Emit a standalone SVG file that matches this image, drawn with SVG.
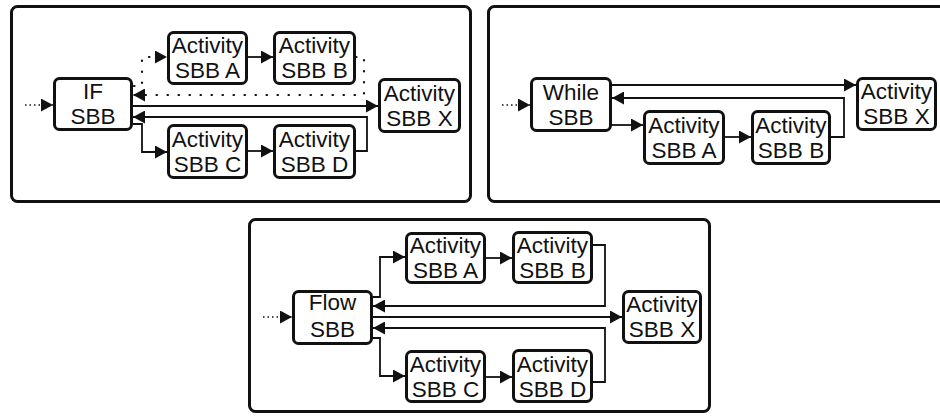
<svg xmlns="http://www.w3.org/2000/svg" width="940" height="416" viewBox="0 0 940 416">
<style>
.panel{fill:#fff;stroke:#111;stroke-width:3}
.box{fill:#fff;stroke:#111;stroke-width:3}
.t{font-family:"Liberation Sans",Arial,sans-serif;font-size:22.5px;fill:#111;text-anchor:middle}
.c{fill:none;stroke:#111;stroke-width:1.8}
.a{marker-end:url(#ah)}
.dot{stroke-dasharray:0.5 10.5;stroke-linecap:round;stroke-width:2.2}
.ell{stroke-dasharray:1.5 3;stroke-width:1.5}
</style>
<defs>
<marker id="ah" markerUnits="userSpaceOnUse" viewBox="0 0 12 13" markerWidth="12" markerHeight="13" refX="12" refY="6.5" orient="auto">
<path d="M0,0 L12,6.5 L0,13 z" fill="#111"/>
</marker>
</defs>
<rect width="940" height="416" fill="#fff"/>
<g id="panels">
<rect class="panel" x="11.5" y="6.5" width="459" height="195" rx="6"/>
<rect class="panel" x="488.5" y="6.5" width="470" height="195" rx="6"/>
<rect class="panel" x="249.5" y="219.5" width="460" height="192" rx="6"/>
</g>
<g id="connectors">
<!-- panel 1 -->
<path class="c ell a" d="M25,105 H53"/>
<path class="c dot a" d="M134,86 H142 V57 H167"/>
<path class="c dot a" d="M356,57 H364 V95 H133"/>
<path class="c a" d="M133,106 H378"/>
<path class="c a" d="M356,151 H367 V117 H133"/>
<path class="c a" d="M133,124 H142 V152 H167"/>
<path class="c a" d="M248,57 H273"/>
<path class="c a" d="M248,151 H273"/>
<!-- panel 2 -->
<path class="c ell a" d="M502,105 H530"/>
<path class="c a" d="M612,85 H856"/>
<path class="c a" d="M831,137 H844 V98 H612"/>
<path class="c a" d="M612,125 H643"/>
<path class="c a" d="M725,137 H751"/>
<!-- panel 3 -->
<path class="c ell a" d="M263,317 H292"/>
<path class="c a" d="M373,297 H380 V257 H405"/>
<path class="c a" d="M373,338 H380 V376 H405"/>
<path class="c a" d="M486,258 H512"/>
<path class="c a" d="M486,377 H512"/>
<path class="c a" d="M593,245 H605 V306 H373"/>
<path class="c a" d="M593,382 H605 V328 H373"/>
<path class="c a" d="M373,317 H622"/>
</g>
<g id="p1_if"><rect class="box" x="54.5" y="78.5" width="77" height="51" rx="5"/><text class="t" x="93" y="99">IF</text><text class="t" x="93" y="124">SBB</text></g>
<g id="p1_a"><rect class="box" x="168.5" y="32.5" width="78" height="51" rx="5"/><text class="t" x="207.5" y="53">Activity</text><text class="t" x="207.5" y="78">SBB A</text></g>
<g id="p1_b"><rect class="box" x="274.5" y="32.5" width="80" height="51" rx="5"/><text class="t" x="314.5" y="53">Activity</text><text class="t" x="314.5" y="78">SBB B</text></g>
<g id="p1_c"><rect class="box" x="168.5" y="125.5" width="78" height="52" rx="5"/><text class="t" x="207.5" y="147">Activity</text><text class="t" x="207.5" y="172">SBB C</text></g>
<g id="p1_d"><rect class="box" x="274.5" y="125.5" width="80" height="52" rx="5"/><text class="t" x="314.5" y="147">Activity</text><text class="t" x="314.5" y="172">SBB D</text></g>
<g id="p1_x"><rect class="box" x="379.5" y="79.5" width="80" height="52" rx="5"/><text class="t" x="419.5" y="101">Activity</text><text class="t" x="419.5" y="126">SBB X</text></g>
<g id="p2_while"><rect class="box" x="531.5" y="78.5" width="79" height="52" rx="5"/><text class="t" x="571" y="100">While</text><text class="t" x="571" y="125">SBB</text></g>
<g id="p2_a"><rect class="box" x="644.5" y="111.5" width="79" height="52" rx="5"/><text class="t" x="684" y="133">Activity</text><text class="t" x="684" y="158">SBB A</text></g>
<g id="p2_b"><rect class="box" x="752.5" y="111.5" width="77" height="52" rx="5"/><text class="t" x="791" y="133">Activity</text><text class="t" x="791" y="158">SBB B</text></g>
<g id="p2_x"><rect class="box" x="857.5" y="78.5" width="78" height="51" rx="5"/><text class="t" x="896.5" y="99">Activity</text><text class="t" x="896.5" y="124">SBB X</text></g>
<g id="p3_flow"><rect class="box" x="293.5" y="291.5" width="78" height="52" rx="5"/><text class="t" x="332.5" y="310">Flow</text><text class="t" x="332.5" y="337">SBB</text></g>
<g id="p3_a"><rect class="box" x="406.5" y="233.5" width="78" height="49" rx="5"/><text class="t" x="445.5" y="253">Activity</text><text class="t" x="445.5" y="278">SBB A</text></g>
<g id="p3_b"><rect class="box" x="513.5" y="232.5" width="78" height="50" rx="5"/><text class="t" x="552.5" y="253">Activity</text><text class="t" x="552.5" y="278">SBB B</text></g>
<g id="p3_c"><rect class="box" x="406.5" y="351.5" width="78" height="50" rx="5"/><text class="t" x="445.5" y="372">Activity</text><text class="t" x="445.5" y="397">SBB C</text></g>
<g id="p3_d"><rect class="box" x="513.5" y="350.5" width="78" height="51" rx="5"/><text class="t" x="552.5" y="372">Activity</text><text class="t" x="552.5" y="397">SBB D</text></g>
<g id="p3_x"><rect class="box" x="623.5" y="291.5" width="77" height="51" rx="5"/><text class="t" x="662" y="312">Activity</text><text class="t" x="662" y="337">SBB X</text></g>
</svg>
